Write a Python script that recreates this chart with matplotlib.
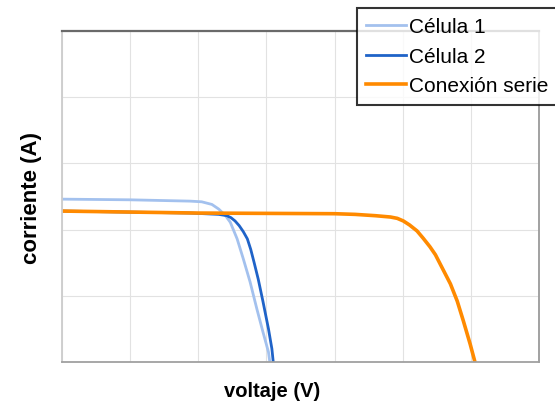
import matplotlib
matplotlib.use("Agg")
import matplotlib.pyplot as plt

# I-V curves of two cells and their series connection
cell1_v = [0.0, 1.0, 1.88, 2.05, 2.2, 2.3, 2.4, 2.47, 2.57, 2.66, 2.76, 2.86,
           2.95, 3.03, 3.05]
cell1_i = [2.46, 2.45, 2.43, 2.42, 2.38, 2.31, 2.21, 2.11, 1.86, 1.56, 1.21,
           0.80, 0.45, 0.15, 0.0]

cell2_v = [0.0, 1.88, 2.3, 2.42, 2.48, 2.54, 2.6, 2.66, 2.72, 2.77, 2.82, 2.88,
           2.95, 3.03, 3.08, 3.10]
cell2_i = [2.28, 2.25, 2.23, 2.21, 2.18, 2.13, 2.06, 1.97, 1.86, 1.70, 1.50,
           1.25, 0.91, 0.50, 0.20, 0.0]

serie_v = [0.0, 2.0, 4.0, 4.3, 4.6, 4.82, 4.92, 5.01, 5.1, 5.21, 5.3, 5.40,
           5.48, 5.55, 5.62, 5.70, 5.80, 5.89, 5.99, 6.06]
serie_i = [2.28, 2.25, 2.24, 2.23, 2.21, 2.19, 2.17, 2.13, 2.07, 1.98, 1.87,
           1.74, 1.62, 1.48, 1.34, 1.18, 0.92, 0.62, 0.27, 0.0]

labels = ["Célula 1", "Célula 2", "Conexión serie"]
colors = ["#a3c1ee", "#1f63c8", "#ff8a00"]

plt.rcParams['font.family'] = ['Liberation Sans', 'DejaVu Sans']

fig = plt.figure(figsize=(5.55, 4.1), dpi=100)
ax = fig.add_axes([62 / 555, 47 / 410, 477 / 555, 331 / 410])

ax.plot(cell1_v, cell1_i, color=colors[0], lw=2.0, label=labels[0],
        solid_joinstyle="round")
ax.plot(cell2_v, cell2_i, color=colors[1], lw=2.0, label=labels[1],
        solid_joinstyle="round")
ax.plot(serie_v, serie_i, color=colors[2], lw=2.6, label=labels[2],
        solid_joinstyle="round")

ax.set_xlim(0, 7)
ax.set_ylim(0, 5)
ax.set_xticks(range(8))
ax.set_yticks(range(6))
ax.grid(True, color="#e2e2e2", lw=0.8)
ax.tick_params(length=0, labelbottom=False, labelleft=False)

ax.spines['top'].set_color("#6a6a6a")
ax.spines['top'].set_linewidth(1.6)
ax.spines['left'].set_color("#cccccc")
ax.spines['bottom'].set_color("#a0a0a0")
ax.spines['right'].set_color("#9a9a9a")
for side in ('left', 'bottom', 'right'):
    ax.spines[side].set_linewidth(1.3)

ax.set_xlabel("voltaje (V)", fontsize=14.5, fontweight="bold")
ax.set_ylabel("corriente (A)", fontsize=16, fontweight="bold")
ax.xaxis.set_label_coords(210 / 477, -0.058)
ax.yaxis.set_label_coords(-0.042, 0.5)

leg = fig.legend(loc="upper left", bbox_to_anchor=(357 / 555, 1 - 9 / 410),
                 fontsize=15, frameon=True, fancybox=False, handlelength=1.9,
                 handletextpad=0.15, borderpad=0.45, labelspacing=0.5,
                 borderaxespad=0)
leg.get_frame().set_edgecolor("black")
leg.get_frame().set_linewidth(1.5)

fig.savefig("out.png", dpi=100)
